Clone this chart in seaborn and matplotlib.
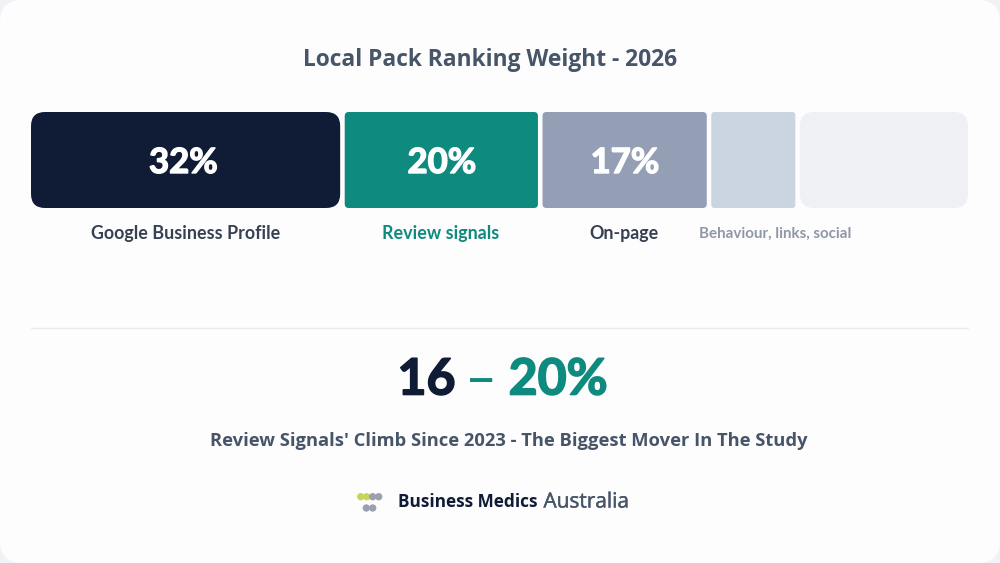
import matplotlib.pyplot as plt
import matplotlib.patheffects as pe
import pandas as pd
import seaborn as sns
from matplotlib.patches import FancyBboxPatch
from matplotlib.transforms import IdentityTransform

sns.set_theme(style="white")
plt.rcParams['font.family'] = ['Open Sans', 'DejaVu Sans']

# Segment data
segments = ['Google Business Profile', 'Review signals', 'On-page', 'Behaviour', 'Links, social']
weights = [32, 20, 17, 8.7, 17.4]
value_labels = ['32%', '20%', '17%', '', '']
seg_colors = ['#101c36', '#0f8a7e', '#949fb5', '#cbd4e1', '#eef0f4']
radii = [14, 4, 4, 3, 14]

caption_labels = ['Google Business Profile', 'Review signals', 'On-page', 'Behaviour, links, social']
caption_colors = ['#374151', '#0f8a7e', '#374151', '#8f97a6']

title = 'Local Pack Ranking Weight - 2026'
range_low = '16'
range_high = '20%'
subtitle = "Review Signals' Climb Since 2023 - The Biggest Mover In The Study"

logo_x = [360.7, 366.7, 372.7, 378.7, 366.3, 372.7]
logo_y = [496.7, 496.7, 496.7, 496.7, 508, 508]
logo_colors = ['#c6d65a', '#c6d65a', '#9aa0ae', '#9aa0ae', '#9aa0ae', '#9aa0ae']

W, H = 1000, 563
GAP = 0.47  # gap between segments, in weight units
LATO = ['Lato', 'DejaVu Sans']


def heavy(width):
    # thicken glyphs a bit, the reference type is heavier than the installed weights
    return [pe.Stroke(linewidth=width), pe.Normal()]


fig = plt.figure(figsize=(10, 5.63), dpi=100, facecolor='#f1f2f5')

# Full-figure canvas in pixel coordinates for the card and the text
bg = fig.add_axes([0, 0, 1, 1])
bg.set_xlim(0, W)
bg.set_ylim(H, 0)
bg.axis('off')
bg.add_patch(FancyBboxPatch((0, 0), W, H, boxstyle='round,pad=0,rounding_size=22',
                            fc='#fdfdfe', ec='none'))

# Stacked bar
ax = fig.add_axes([31 / W, 1 - 208 / H, 937 / W, 96 / H])
ax.patch.set_alpha(0)
df = pd.DataFrame({'segment': segments, 'weight': weights, 'row': 'weight'})
left = 0
for i, row in df.iterrows():
    sns.barplot(data=df.iloc[[i]], x='weight', y='row', orient='y', color=seg_colors[i],
                width=1, left=left, ax=ax, saturation=1)
    left += row['weight'] + GAP
ax.set_xlim(0, left - GAP)
ax.set_ylim(0.5, -0.5)
ax.axis('off')

# Swap the square bars for rounded ones of the same size
fig.canvas.draw()
for bar, color, r in zip(list(ax.patches), seg_colors, radii):
    box = bar.get_window_extent()
    bar.set_visible(False)
    ax.add_patch(FancyBboxPatch((box.x0, box.y0), box.width, box.height,
                                boxstyle=f'round,pad=0,rounding_size={r}',
                                fc=color, ec='none', transform=IdentityTransform(),
                                clip_on=False))

bg.set_zorder(0)
ax.set_zorder(1)
top = fig.add_axes([0, 0, 1, 1], zorder=2)
top.set_xlim(0, W)
top.set_ylim(H, 0)
top.axis('off')
top.patch.set_alpha(0)

top.text(490, 60, title, ha='center', va='center', fontsize=16.4, fontweight='bold', color='#475569')

for x, label in zip([183.5, 442, 625], value_labels):
    t = top.text(x, 163, label, ha='center', va='center', fontsize=25, fontweight='bold',
                 color='white', family=LATO)
    t.set_path_effects(heavy(1.0))

caption_x = [186, 441, 624, 775]
caption_size = [12.9, 12.9, 12.9, 10.9]
caption_y = [233, 233, 233, 234]
for x, y, label, c, s in zip(caption_x, caption_y, caption_labels, caption_colors, caption_size):
    top.text(x, y, label, ha='center', va='center', fontsize=s, fontweight='bold',
             color=c, family=LATO)

top.plot([31, 968], [328, 328], color='#e9ebef', lw=1)

low = top.text(426.5, 380, range_low, ha='center', va='center', fontsize=36, fontweight='bold',
               color='#101c36', family=LATO)
low.set_path_effects(heavy(1.2))
top.text(481, 382, '–', ha='center', va='center', fontsize=40, color='#0f8a7e', family=LATO)
high = top.text(558, 380, range_high, ha='center', va='center', fontsize=36, fontweight='bold',
                color='#0f8a7e', family=LATO)
high.set_path_effects(heavy(1.2))

top.text(509, 441, subtitle, ha='center', va='center', fontsize=13.2, fontweight='bold', color='#475569')

sns.scatterplot(x=logo_x, y=logo_y, c=logo_colors, s=28, linewidth=0, ax=top, legend=False)
top.set_xlim(0, W)
top.set_ylim(H, 0)
top.text(398, 502, 'Business Medics', ha='left', va='center', fontsize=12.4, fontweight='bold', color='#101c36')
top.text(543.5, 502, 'Australia', ha='left', va='center', fontsize=15, color='#475569',
         path_effects=heavy(0.3))

fig.savefig('out.png', dpi=100, facecolor=fig.get_facecolor())
